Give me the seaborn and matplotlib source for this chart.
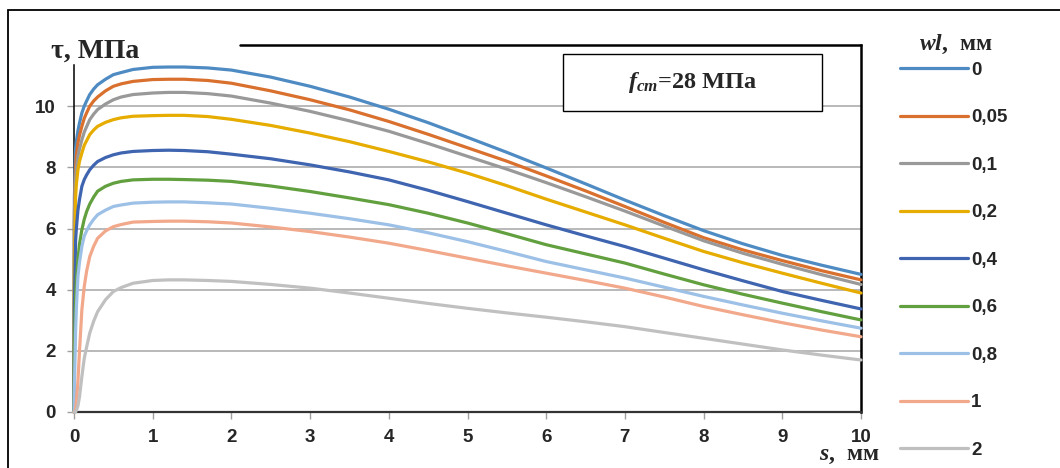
import numpy as np
import pandas as pd
import matplotlib
matplotlib.use("Agg")
import matplotlib.pyplot as plt
import seaborn as sns
from matplotlib.lines import Line2D
from matplotlib.patches import Rectangle
from matplotlib.font_manager import FontProperties

# ---- data ----
s_mm = [0, 0.005, 0.02, 0.03, 0.05, 0.07, 0.1, 0.13, 0.16, 0.2, 0.25, 0.3, 0.4, 0.5, 0.6,
        0.75, 1.0, 1.2, 1.4, 1.7, 2, 2.5, 3, 3.5, 4, 4.5, 5, 5.5, 6, 6.5, 7, 7.5, 8,
        8.5, 9, 9.5, 10]

tau_0   = [0, 7.0, 8.6, 8.85, 9.2, 9.45, 9.78, 10.0, 10.17, 10.38, 10.56, 10.7, 10.88, 11.03,
           11.1, 11.2, 11.27, 11.28, 11.28, 11.25, 11.18, 10.95, 10.65, 10.3, 9.9, 9.46,
           8.98, 8.49, 7.98, 7.46, 6.93, 6.42, 5.93, 5.5, 5.12, 4.8, 4.5]
tau_005 = [0, 6.5, 8.0, 8.4, 8.79, 9.05, 9.34, 9.6, 9.78, 10.0, 10.17, 10.3, 10.5, 10.65,
           10.73, 10.81, 10.87, 10.88, 10.88, 10.84, 10.75, 10.5, 10.21, 9.88, 9.5, 9.08,
           8.64, 8.2, 7.72, 7.23, 6.72, 6.2, 5.7, 5.3, 4.95, 4.62, 4.32]
tau_01  = [0, 6.2, 7.6, 7.95, 8.35, 8.6, 8.9, 9.15, 9.33, 9.56, 9.74, 9.89, 10.07, 10.21,
           10.3, 10.38, 10.43, 10.45, 10.45, 10.41, 10.33, 10.1, 9.83, 9.52, 9.18, 8.78,
           8.36, 7.94, 7.5, 7.04, 6.57, 6.08, 5.6, 5.19, 4.83, 4.49, 4.17]
tau_02  = [0, 5.0, 7.0, 7.45, 7.92, 8.2, 8.47, 8.72, 8.87, 9.07, 9.22, 9.34, 9.47, 9.56,
           9.62, 9.67, 9.69, 9.7, 9.7, 9.66, 9.57, 9.37, 9.12, 8.84, 8.52, 8.18,
           7.81, 7.4, 6.96, 6.54, 6.12, 5.68, 5.25, 4.88, 4.54, 4.21, 3.89]
tau_04  = [0, 3.5, 5.6, 6.0, 6.6, 6.95, 7.38, 7.6, 7.75, 7.92, 8.07, 8.19, 8.32, 8.41,
           8.47, 8.52, 8.55, 8.56, 8.55, 8.51, 8.43, 8.28, 8.08, 7.85, 7.59, 7.25,
           6.88, 6.5, 6.12, 5.76, 5.41, 5.03, 4.65, 4.29, 3.94, 3.65, 3.37]
tau_06  = [0, 2.0, 3.8, 4.3, 4.98, 5.5, 5.96, 6.3, 6.55, 6.8, 7.03, 7.22, 7.38, 7.48,
           7.54, 7.59, 7.61, 7.61, 7.6, 7.58, 7.54, 7.39, 7.21, 7.0, 6.78, 6.5,
           6.18, 5.83, 5.47, 5.17, 4.87, 4.51, 4.16, 3.85, 3.56, 3.28, 3.01]
tau_08  = [0, 0.8, 2.6, 3.4, 4.43, 4.9, 5.41, 5.75, 5.92, 6.12, 6.3, 6.45, 6.6, 6.72,
           6.77, 6.83, 6.86, 6.87, 6.87, 6.84, 6.8, 6.66, 6.5, 6.32, 6.12, 5.86,
           5.57, 5.25, 4.92, 4.65, 4.38, 4.08, 3.78, 3.5, 3.23, 2.98, 2.74]
tau_1   = [0, 0.0, 0.1, 0.3, 1.0, 2.0, 3.34, 4.1, 4.6, 5.08, 5.42, 5.68, 5.92, 6.06,
           6.13, 6.21, 6.23, 6.24, 6.24, 6.22, 6.18, 6.05, 5.9, 5.72, 5.52, 5.28,
           5.03, 4.78, 4.54, 4.3, 4.05, 3.76, 3.45, 3.18, 2.92, 2.68, 2.46]
tau_2   = [0, 0.0, 0.0, 0.05, 0.2, 0.5, 1.16, 1.75, 2.12, 2.58, 2.97, 3.28, 3.67, 3.94,
           4.07, 4.21, 4.3, 4.32, 4.32, 4.3, 4.27, 4.17, 4.05, 3.89, 3.72, 3.55,
           3.39, 3.24, 3.1, 2.95, 2.79, 2.6, 2.41, 2.22, 2.03, 1.86, 1.70]

wl_labels = ["0", "0,05", "0,1", "0,2", "0,4", "0,6", "0,8", "1", "2"]
series = [tau_0, tau_005, tau_01, tau_02, tau_04, tau_06, tau_08, tau_1, tau_2]
colors = ["#4F8BC3", "#D9702E", "#999999", "#E6AC00", "#3F64B0",
          "#62A03F", "#9CC0E6", "#F2A88A", "#C0C0C0"]

x_ticks = [0, 1, 2, 3, 4, 5, 6, 7, 8, 9, 10]
y_ticks = [0, 2, 4, 6, 8, 10]

df = pd.concat(
    [pd.DataFrame({"s": s_mm, "tau": v, "wl": lab}) for lab, v in zip(wl_labels, series)],
    ignore_index=True,
)

# ---- style ----
sns.set_style("white")
plt.rcParams["font.family"] = ["Liberation Sans", "DejaVu Sans"]
plt.rcParams["mathtext.fontset"] = "custom"
plt.rcParams["mathtext.it"] = "Liberation Serif:italic:bold"
plt.rcParams["mathtext.rm"] = "Liberation Serif:bold"

W, H = 1060, 468
fig = plt.figure(figsize=(W / 100, H / 100), dpi=100)
ax = fig.add_axes([74 / W, 1 - 412 / H, (861 - 74) / W, (412 - 45) / H])

sns.lineplot(data=df, x="s", y="tau", hue="wl", hue_order=wl_labels, palette=colors,
             estimator=None, sort=False, linewidth=2.3, legend=False, ax=ax, zorder=3)
for ln in ax.get_lines():
    ln.set_clip_on(False)
    ln.set_solid_capstyle("round")
    ln.set_solid_joinstyle("round")

ax.set_xlim(0, 10)
ax.set_ylim(0, 12)
ax.set_xticks(x_ticks)
ax.set_yticks(y_ticks)
ax.set_xlabel("")
ax.set_ylabel("")
ax.yaxis.grid(True, color="#A6A6A6", linewidth=1.1, zorder=0)
ax.xaxis.grid(False)
ax.set_axisbelow(True)

ax.tick_params(axis="both", direction="out", length=5, width=1.0, color="#A0A0A0",
               labelsize=13.5, bottom=True, left=True)
ax.tick_params(axis="y", pad=8)
ax.tick_params(axis="x", pad=7)
for lab in ax.get_xticklabels() + ax.get_yticklabels():
    lab.set_fontweight("bold")

ax.spines["top"].set_visible(False)
ax.spines["left"].set_color("black")
ax.spines["left"].set_linewidth(1.1)
ax.spines["left"].set_bounds(0, 11.35)
ax.spines["bottom"].set_color("#333333")
ax.spines["bottom"].set_linewidth(1.6)
ax.spines["right"].set_visible(True)
ax.spines["right"].set_color("black")
ax.spines["right"].set_linewidth(1.8)
ax.plot([(240 - 74) / (861 - 74), 1], [1, 1], transform=ax.transAxes, color="black",
        linewidth=1.8, clip_on=False, zorder=4)

# f_cm box
ax.add_patch(Rectangle((6.21, 9.85), 3.29, 1.84, facecolor="white", edgecolor="black",
                       linewidth=1.0, zorder=5))
ax.text(7.855, 10.77, r"$\mathit{f}_{\mathit{cm}}$=28 МПа", ha="center", va="center",
        fontfamily="Liberation Serif", fontweight="bold", fontsize=17.5, zorder=6)

# axis titles
fig.text(95 / W, 1 - 51 / H, "τ, МПа", ha="center", va="center",
         fontfamily="Liberation Serif", fontweight="bold", fontsize=20)
fig.text(849 / W, 1 - 455 / H, r"$\mathit{s}$,  мм", ha="center", va="center",
         fontfamily="Liberation Serif", fontweight="bold", fontsize=17)
fig.text(956 / W, 1 - 44 / H, r"$\mathit{wl}$,  мм", ha="center", va="center",
         fontfamily="Liberation Serif", fontweight="bold", fontsize=17)

# legend
handles = [Line2D([0], [0], color=c, linewidth=2.3, solid_capstyle="round") for c in colors]
fig.legend(handles, wl_labels, loc="upper left", bbox_to_anchor=(900 / W, 1 - 61.5 / H),
           frameon=False, borderpad=0, borderaxespad=0, handlelength=3.6,
           handletextpad=0.2, labelspacing=1.62,
           prop=FontProperties(family="Liberation Sans", weight="bold", size=13.5))

# outer frame
fig.add_artist(Rectangle((8 / W, -0.2), 1.5, 1.2 - 10 / H, transform=fig.transFigure,
                         fill=False, edgecolor="black", linewidth=1.3))

fig.savefig("out.png", dpi=100)
